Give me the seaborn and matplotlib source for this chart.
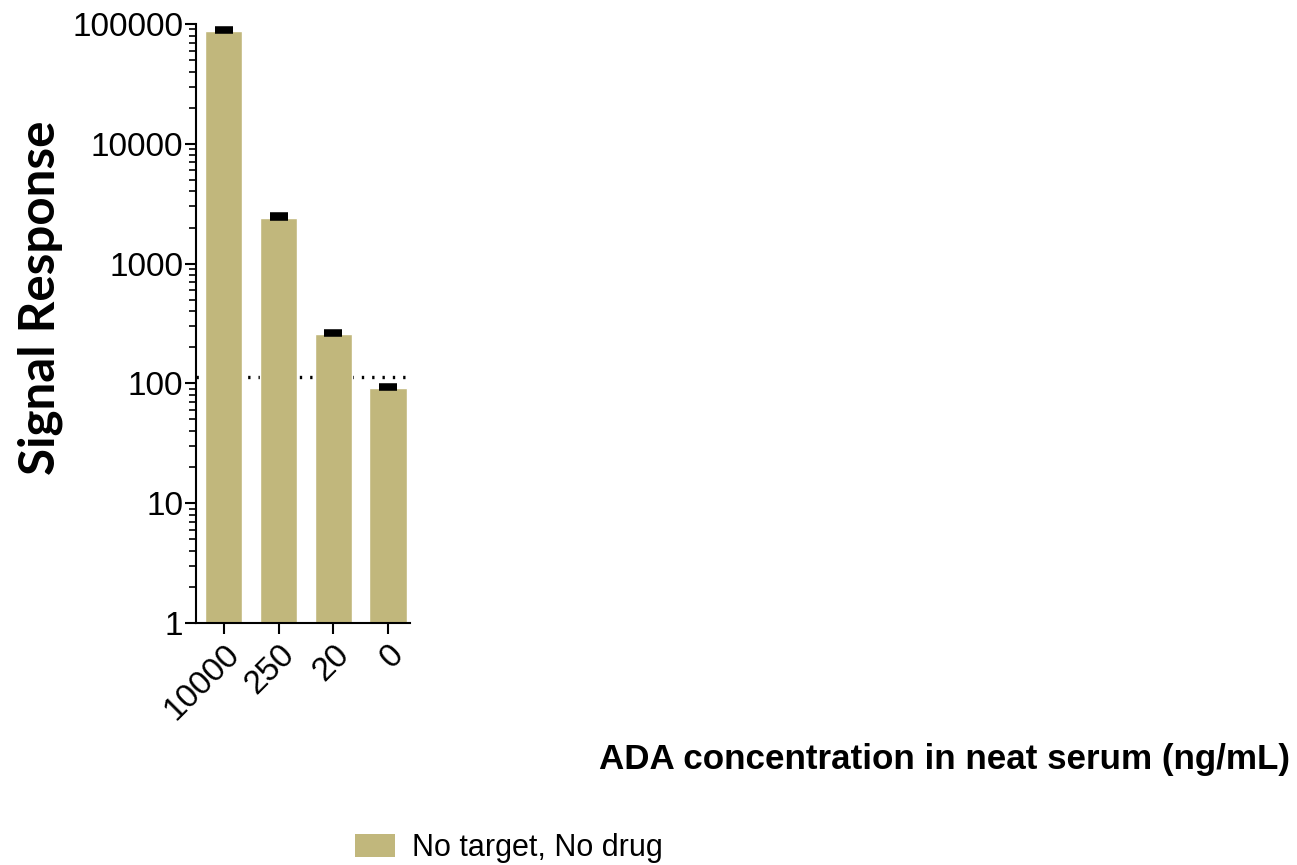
import matplotlib
matplotlib.use("Agg")
import matplotlib.pyplot as plt
import matplotlib.ticker as mticker
from matplotlib.patches import Patch
import numpy as np
import pandas as pd
import seaborn as sns

# ADA concentration levels (ng/mL) and mean signal response
concentrations = ["10000", "250", "20", "0"]
signal_mean = [87000, 2420, 256, 91]
signal_err = [4000, 110, 11, 5]
cut_point = 114
series_name = "No target, No drug"
bar_color = "#c1b77c"

sns.set_theme(style="ticks")
plt.rcParams["font.family"] = ["Liberation Sans", "DejaVu Sans"]
plt.rcParams["text.color"] = "black"
plt.rcParams["xtick.color"] = "black"
plt.rcParams["ytick.color"] = "black"

df = pd.DataFrame({"conc": concentrations, "signal": signal_mean, "group": series_name})

fig = plt.figure(figsize=(12.97, 8.65), dpi=100)
ax = fig.add_axes([196.5 / 1297, 1 - 623 / 865, (410 - 196.5) / 1297, (623 - 24) / 865])
ax.set_yscale("log")

sns.barplot(data=df, x="conc", y="signal", hue="group", palette=[bar_color],
            width=0.68, errorbar=None, legend=False, ax=ax, zorder=2,
            saturation=1)

xs = np.arange(len(concentrations))
ax.errorbar(xs, signal_mean, yerr=[np.zeros(len(xs)), signal_err], fmt="none",
            ecolor="black", elinewidth=2, capsize=6.5, capthick=4, zorder=3)

ax.axhline(cut_point, color="black", lw=2.4, linestyle=(0, (0.7, 2.4)), zorder=1)

ax.set_ylim(1, 100000)
ax.set_xlim(-0.5, 3.4)
ax.yaxis.set_major_locator(mticker.LogLocator(base=10, numticks=10))
ax.yaxis.set_minor_locator(mticker.LogLocator(base=10, subs=np.arange(2, 10), numticks=10))
ax.yaxis.set_major_formatter(mticker.FuncFormatter(lambda v, p: f"{int(round(v))}"))
ax.yaxis.set_minor_formatter(mticker.NullFormatter())

for s in ("top", "right"):
    ax.spines[s].set_visible(False)
for s in ("left", "bottom"):
    ax.spines[s].set_linewidth(1.5)
    ax.spines[s].set_color("black")

ax.tick_params(axis="both", which="major", length=8, width=1.5, labelsize=24,
               colors="black", labelcolor="black")
ax.tick_params(axis="y", which="major", pad=1.5)
ax.tick_params(axis="y", which="minor", length=5, width=1.2, colors="black")
plt.setp(ax.get_xticklabels(), rotation=45, ha="right", rotation_mode="anchor")

ax.set_xlabel("")
ax.set_ylabel("")
fig.text(40 / 1297, 1 - 298 / 865, "Signal Response", rotation=90, ha="center", va="center",
         fontsize=35.5, fontweight="bold", color="black", family=["Lato", "DejaVu Sans"])
fig.text(1290 / 1297, 1 - 760 / 865, "ADA concentration in neat serum (ng/mL)",
         ha="right", va="center", fontsize=25.2, fontweight="bold", color="black")

handle = Patch(facecolor=bar_color, edgecolor="none")
leg = fig.legend(handles=[handle], labels=[series_name], loc="center left",
                 bbox_to_anchor=(355 / 1297, 1 - 848 / 865), frameon=False, fontsize=22,
                 handlelength=1.3, handleheight=0.8, handletextpad=0.55, borderpad=0,
                 borderaxespad=0)
for t in leg.get_texts():
    t.set_color("black")

fig.savefig("out.png", dpi=100)
